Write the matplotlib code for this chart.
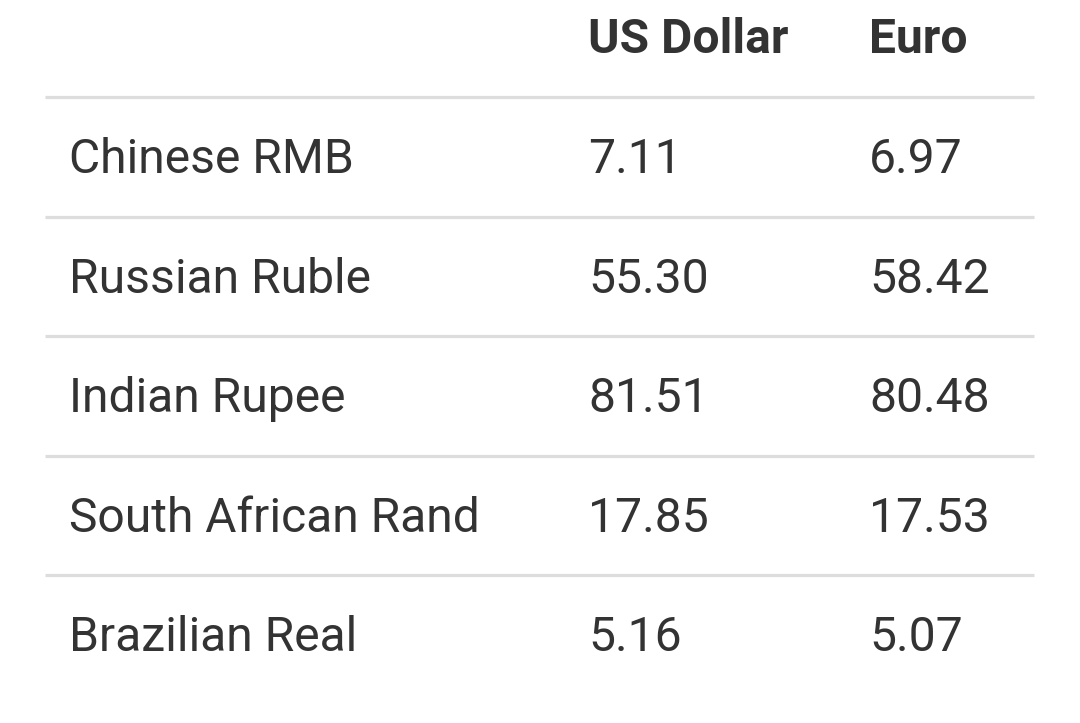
import matplotlib
matplotlib.use("Agg")
import matplotlib.pyplot as plt

currencies = ["Chinese RMB", "Russian Ruble", "Indian Rupee", "South African Rand", "Brazilian Real"]
usd = [7.11, 55.30, 81.51, 17.85, 5.16]
euro = [6.97, 58.42, 80.48, 17.53, 5.07]
headers = ["", "US Dollar", "Euro"]

TEXT = "#333333"
LINE = "#dddddd"
FS = 34.6

fig = plt.figure(figsize=(10.8, 7.23), dpi=100)
ax = fig.add_axes([0, 0, 1, 1])
ax.set_xlim(0, 1080)
ax.set_ylim(723, 0)
ax.axis("off")

col_x = [69, 588, 869]
header_base = 53
row_base0 = 173
row_step = 119.6
line0 = 97

for x, h in zip(col_x, headers):
    if h:
        ax.text(x, header_base, h, fontsize=FS, fontweight="bold", color=TEXT,
                family="Roboto", va="baseline", ha="left")

for i, (c, u, e) in enumerate(zip(currencies, usd, euro)):
    yb = row_base0 + i * row_step
    ly = line0 + i * row_step
    ax.plot([45, 1034], [ly, ly], color=LINE, lw=2.3, solid_capstyle="butt")
    for x, t in zip(col_x, [c, f"{u:.2f}", f"{e:.2f}"]):
        ax.text(x, yb, t, fontsize=FS, color=TEXT, family="Roboto",
                va="baseline", ha="left")

fig.savefig("out.png", dpi=100, facecolor="white")
